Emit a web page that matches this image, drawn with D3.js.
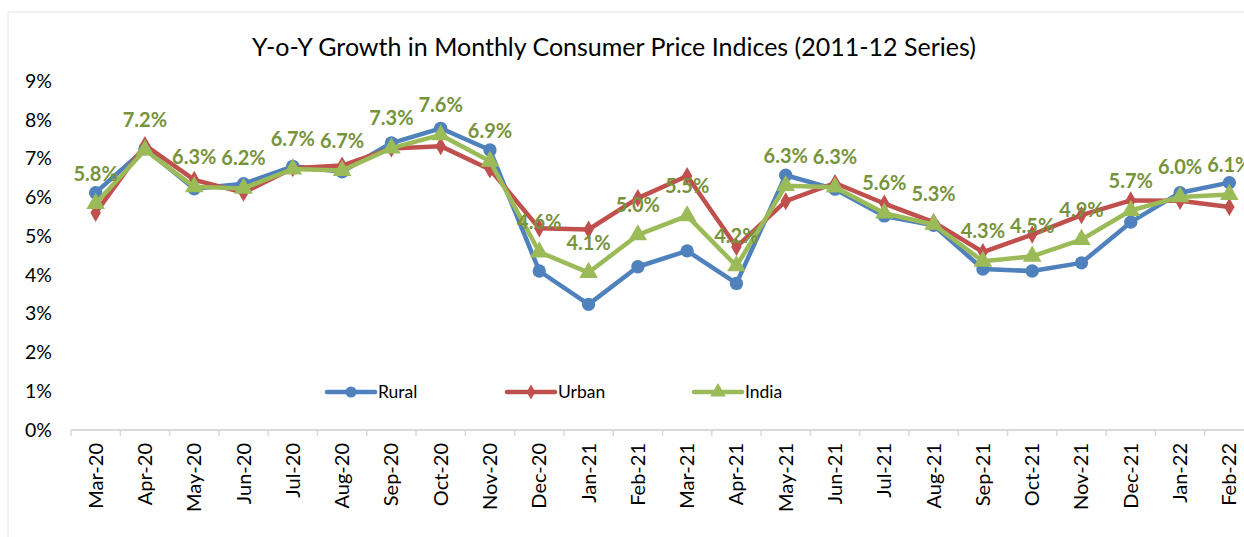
<!DOCTYPE html>
<html>
<head>
<meta charset="utf-8">
<script src="https://cdn.jsdelivr.net/npm/d3@7"></script>
<style>
  html, body { margin: 0; padding: 0; background: #fff; }
  svg { display: block; font-family: "Lato", "Open Sans", sans-serif; }
</style>
</head>
<body>
<svg id="chart" width="1244" height="537"></svg>
<script>
const months = ["Mar-20","Apr-20","May-20","Jun-20","Jul-20","Aug-20","Sep-20","Oct-20","Nov-20","Dec-20","Jan-21","Feb-21","Mar-21","Apr-21","May-21","Jun-21","Jul-21","Aug-21","Sep-21","Oct-21","Nov-21","Dec-21","Jan-22","Feb-22"];
const rural = [6.12, 7.25, 6.22, 6.35, 6.8, 6.66, 7.4, 7.78, 7.22, 4.1, 3.24, 4.21, 4.62, 3.78, 6.57, 6.21, 5.52, 5.28, 4.15, 4.1, 4.31, 5.36, 6.12, 6.38];
const urban = [5.6, 7.35, 6.45, 6.12, 6.75, 6.82, 7.26, 7.32, 6.72, 5.2, 5.17, 5.98, 6.55, 4.72, 5.9, 6.37, 5.84, 5.36, 4.59, 5.04, 5.54, 5.92, 5.91, 5.75];
const india = [5.84, 7.22, 6.27, 6.23, 6.73, 6.69, 7.27, 7.61, 6.93, 4.59, 4.06, 5.03, 5.52, 4.23, 6.30, 6.26, 5.59, 5.30, 4.35, 4.48, 4.91, 5.66, 6.01, 6.07];
const yTicks = [0, 1, 2, 3, 4, 5, 6, 7, 8, 9];
const seriesNames = ["Rural", "Urban", "India"];
const title = "Y-o-Y Growth in Monthly Consumer Price Indices (2011-12 Series)";

const colors = { Rural: "#4F81BD", Urban: "#C0504D", India: "#9BBB59" };
const labelColor = "#77933C";

const svg = d3.select("#chart");

// chart frame
svg.append("line").attr("x1", 8).attr("x2", 1244).attr("y1", 12).attr("y2", 12)
  .attr("stroke", "#e6e6e6").attr("stroke-width", 1);
svg.append("line").attr("x1", 8).attr("x2", 8).attr("y1", 12).attr("y2", 537)
  .attr("stroke", "#e6e6e6").attr("stroke-width", 1);

const x = d3.scaleBand().domain(months).range([71, 1254]).padding(0);
const y = d3.scaleLinear().domain([0, 9]).range([430, 81]);
const cx = d => x(d) + x.bandwidth() / 2;

// title
svg.append("text").attr("x", 614).attr("y", 56).attr("text-anchor", "middle")
  .attr("font-size", 25).attr("fill", "#000").text(title);

// y labels
svg.append("g").selectAll("text").data(yTicks).join("text")
  .attr("x", 52).attr("y", d => y(d)).attr("dy", "0.35em")
  .attr("text-anchor", "end").attr("font-size", 19.5).attr("fill", "#000")
  .text(d => d + "%");

// x axis
const xAxis = svg.append("g").attr("transform", "translate(0,430)");
xAxis.append("line").attr("x1", 71).attr("x2", 1254).attr("y1", 0).attr("y2", 0)
  .attr("stroke", "#d9d9d9").attr("stroke-width", 2);
const bounds = months.map(m => x(m)).concat([x.range()[1]]);
xAxis.selectAll("line.tick").data(bounds).join("line").attr("class", "tick")
  .attr("x1", d => d).attr("x2", d => d).attr("y1", 0).attr("y2", 6)
  .attr("stroke", "#d9d9d9").attr("stroke-width", 1.5);
svg.append("g").selectAll("text").data(months).join("text")
  .attr("transform", d => `translate(${cx(d)},443) rotate(-90)`)
  .attr("dy", "0.35em").attr("text-anchor", "end")
  .attr("font-size", 20).attr("fill", "#000").text(d => d);

// series
const dataBy = { Rural: rural, Urban: urban, India: india };
const line = d3.line().x((d, i) => cx(months[i])).y(d => y(d));
const symbols = { Rural: d3.symbolCircle, Urban: d3.symbolDiamond, India: d3.symbolTriangle };
const sizes = { Rural: 140, Urban: 95, India: 150 };

seriesNames.forEach(name => {
  const vals = dataBy[name];
  const g = svg.append("g");
  g.append("path").datum(vals).attr("d", line).attr("fill", "none")
    .attr("stroke", colors[name]).attr("stroke-width", 4.5)
    .attr("stroke-linejoin", "round").attr("stroke-linecap", "round");
  g.selectAll("path.m").data(vals).join("path").attr("class", "m")
    .attr("transform", (d, i) => `translate(${cx(months[i])},${y(d)})`)
    .attr("d", d3.symbol().type(symbols[name]).size(sizes[name]))
    .attr("fill", colors[name]);
});

// India data labels
svg.append("g").selectAll("text").data(india).join("text")
  .attr("x", (d, i) => cx(months[i])).attr("y", d => y(d) - 23)
  .attr("text-anchor", "middle").attr("font-size", 20).attr("font-weight", "bold")
  .attr("fill", labelColor).text(d => d.toFixed(1) + "%");

// legend
const legendX = { Rural: 327, Urban: 507, India: 694 };
const lg = svg.append("g");
seriesNames.forEach(name => {
  const x0 = legendX[name];
  lg.append("line").attr("x1", x0).attr("x2", x0 + 48).attr("y1", 392).attr("y2", 392)
    .attr("stroke", colors[name]).attr("stroke-width", 4.5).attr("stroke-linecap", "round");
  lg.append("path").attr("transform", `translate(${x0 + 24},392)`)
    .attr("d", d3.symbol().type(symbols[name]).size(sizes[name] * 0.7))
    .attr("fill", colors[name]);
  lg.append("text").attr("x", x0 + 51).attr("y", 392).attr("dy", "0.35em")
    .attr("font-size", 17.5).attr("fill", "#000").text(name);
});
</script>
</body>
</html>
